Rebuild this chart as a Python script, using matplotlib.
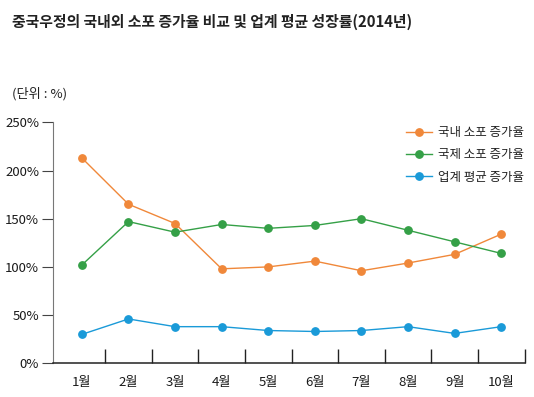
import matplotlib.pyplot as plt
import numpy as np

plt.rcParams['font.family'] = ['Noto Sans CJK KR', 'DejaVu Sans']

months = ['1월', '2월', '3월', '4월', '5월', '6월', '7월', '8월', '9월', '10월']
domestic = [213, 165, 145, 98, 100, 106, 96, 104, 113, 134]
international = [102, 147, 136, 144, 140, 143, 150, 138, 126, 114]
industry_avg = [30, 46, 38, 38, 34, 33, 34, 38, 31, 38]
yticks = [0, 50, 100, 150, 200, 250]

c_dom = '#f0883a'
c_int = '#35a047'
c_avg = '#1a9ad8'

fig = plt.figure(figsize=(5.34, 3.97), dpi=100)
ax = fig.add_axes([53/534, (397-363.3)/397, (525-53)/534, (363.3-122.3)/397])

x = np.arange(len(months))
ax.plot(x, domestic, color=c_dom, lw=1, marker='o', ms=5.3, label='국내 소포 증가율')
ax.plot(x, international, color=c_int, lw=1, marker='o', ms=5.3, label='국제 소포 증가율')
ax.plot(x, industry_avg, color=c_avg, lw=1, marker='o', ms=5.3, label='업계 평균 증가율')

ax.set_xlim(-0.62, 9.51)
ax.set_ylim(0, 250)

# month labels between tick marks
ax.set_xticks(x)
ax.set_xticklabels(months, fontsize=9.5, color='#1a1a1a')
ax.tick_params(axis='x', which='major', length=0, pad=9)
ax.set_xticks(np.arange(0.5, 10, 1), minor=True)
ax.tick_params(axis='x', which='minor', direction='in', length=10, width=1, color='#222222')

ax.set_yticks(yticks)
ax.set_yticklabels([f'{v}%' for v in yticks], fontsize=9.5, color='#1a1a1a')
ax.tick_params(axis='y', direction='out', length=8, width=0.8, color='#444444', pad=2)

ax.spines['top'].set_visible(False)
ax.spines['right'].set_visible(False)
ax.spines['left'].set_color('#777777')
ax.spines['left'].set_linewidth(0.8)
ax.spines['bottom'].set_color('#222222')
ax.spines['bottom'].set_linewidth(1.1)

leg = ax.legend(loc='upper left', bbox_to_anchor=(406/534, 1-126/397), bbox_transform=fig.transFigure,
                frameon=False, fontsize=9, borderpad=0, borderaxespad=0,
                handlelength=2.1, labelspacing=0.75, handletextpad=0.5, markerscale=1.0)
for t in leg.get_texts():
    t.set_color('#222222')

fig.text(12/534, 1-22/397, '중국우정의 국내외 소포 증가율 비교 및 업계 평균 성장률(2014년)',
         fontsize=10.7, fontweight='bold', va='center', ha='left', color='#222222')
fig.text(12/534, 1-94/397, '(단위 : %)', fontsize=9.5, va='center', ha='left', color='#222222')

fig.savefig('out.png', dpi=100)
